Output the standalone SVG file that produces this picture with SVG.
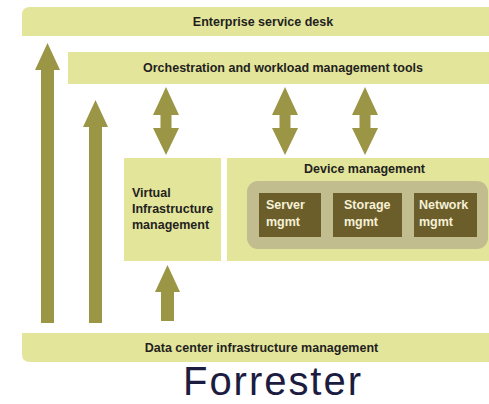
<svg xmlns="http://www.w3.org/2000/svg" width="489" height="404" viewBox="0 0 489 404">
<style>
.bar{fill:#e3e59b}
.arr{fill:#9b9646}
.lbl{font-family:"Liberation Sans",Arial,sans-serif;font-weight:bold;font-size:12.5px;fill:#231f20}
.wl{font-family:"Liberation Sans",Arial,sans-serif;font-weight:bold;font-size:12.5px;fill:#f6f1d6}
.dark{fill:#6b5e2b}
</style>
<rect width="489" height="404" fill="#ffffff"/>
<g id="service-desk">
<path class="bar" d="M22,36 V15 Q22,7 30,7 H489 V36 Z"/>
<text class="lbl" x="263" y="26" text-anchor="middle">Enterprise service desk</text>
</g>
<g id="orchestration">
<rect class="bar" x="68" y="52" width="421" height="32"/>
<text class="lbl" x="283" y="72" text-anchor="middle">Orchestration and workload management tools</text>
</g>
<g id="virtual-infra">
<rect class="bar" x="124" y="158" width="97" height="103"/>
<text class="lbl" x="132" y="197">Virtual</text>
<text class="lbl" x="132" y="213">Infrastructure</text>
<text class="lbl" x="132" y="229">management</text>
</g>
<g id="device-management">
<rect class="bar" x="227" y="158" width="262" height="103"/>
<text class="lbl" x="364.5" y="173" text-anchor="middle">Device management</text>
<rect x="247" y="181" width="241" height="68" rx="11" fill="#c1bd8f"/>
</g>
<g id="server-mgmt">
<rect class="dark" x="259" y="193" width="62" height="44"/>
<text class="wl" x="266" y="209">Server</text>
<text class="wl" x="266" y="226">mgmt</text>
</g>
<g id="storage-mgmt">
<rect class="dark" x="333" y="193" width="69" height="44"/>
<text class="wl" x="344" y="209">Storage</text>
<text class="wl" x="344" y="226">mgmt</text>
</g>
<g id="network-mgmt">
<rect class="dark" x="414" y="193" width="63" height="44"/>
<text class="wl" x="419" y="209">Network</text>
<text class="wl" x="419" y="226">mgmt</text>
</g>
<g id="dcim">
<path class="bar" d="M22,333 H489 V362 H30 Q22,362 22,354 Z"/>
<text class="lbl" x="261.5" y="352" text-anchor="middle">Data center infrastructure management</text>
</g>
<g id="connectors">
<polygon class="arr" points="47.5,43 60,70 54,70 54,323 41,323 41,70 35,70"/>
<polygon class="arr" points="95.5,100 108,127 102,127 102,323 89,323 89,127 83,127"/>
<polygon class="arr" points="166,87 179,115 171.5,115 171.5,128 179,128 166,155 153,128 160.5,128 160.5,115 153,115"/>
<polygon class="arr" points="285,87 298,115 290.5,115 290.5,128 298,128 285,155 272,128 279.5,128 279.5,115 272,115"/>
<polygon class="arr" points="365,87 378,115 370.5,115 370.5,128 378,128 365,155 352,128 359.5,128 359.5,115 352,115"/>
<polygon class="arr" points="167.5,265 180,292 174,292 174,321 161,321 161,292 155,292"/>
</g>
<text x="183" y="395" textLength="178" lengthAdjust="spacing" font-family="'Liberation Sans',Arial,sans-serif" font-size="40" fill="#1c1b40">Forrester</text>
</svg>
